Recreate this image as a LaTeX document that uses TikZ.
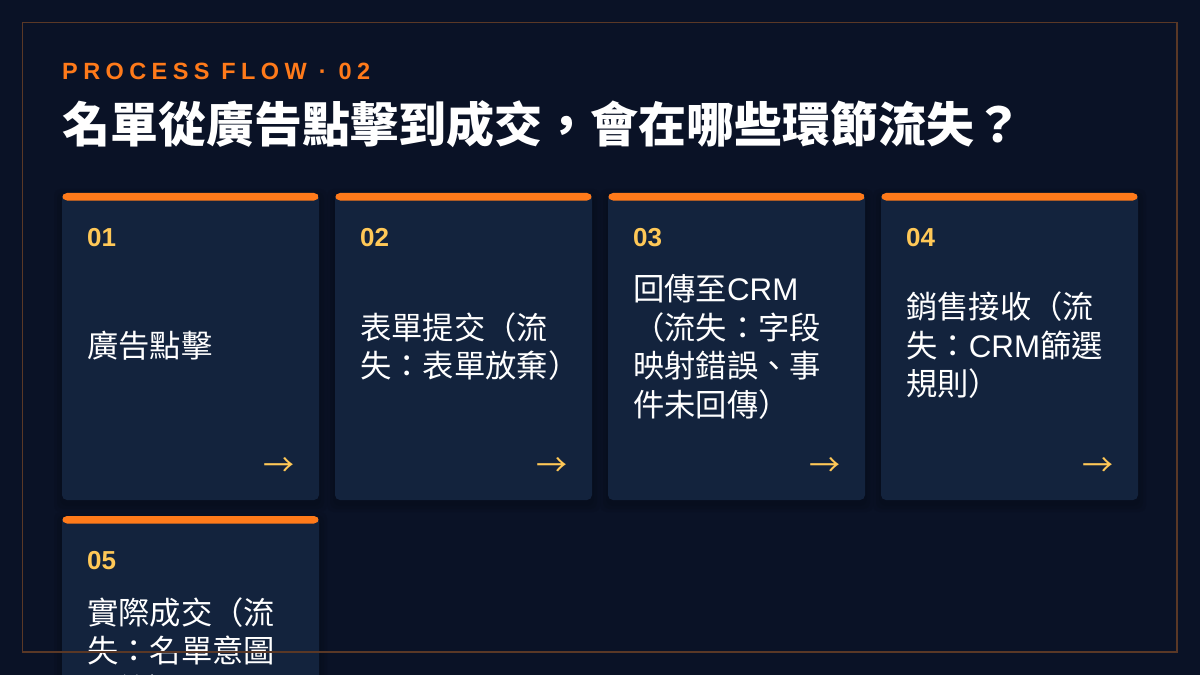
\documentclass[tikz,border=0pt]{standalone}
\usepackage{fontspec}
\setmainfont{Liberation Sans}
\newfontfamily\cjk{Noto Sans CJK TC}
\newfontfamily\kickerfont{Liberation Sans}[LetterSpace=23]
\newcommand\lat[1]{{\rmfamily #1}}
\definecolor{bgc}{HTML}{0A1226}
\definecolor{cardc}{HTML}{13233D}
\definecolor{orangeA}{HTML}{FF7A1A}
\definecolor{yellowA}{HTML}{FFC857}
\definecolor{framec}{HTML}{5A3826}
\tikzset{
  cardbox/.style={minimum width=257bp, minimum height=307bp, inner sep=0pt, outer sep=0pt,
    anchor=north west, fill=cardc, rounded corners=5bp,
    path picture={\fill[orangeA] ([yshift=2bp]path picture bounding box.north west) rectangle ([yshift=-7.5bp]path picture bounding box.north east);}},
  shadowbox/.style={fill=black, fill opacity=0.06},
  num/.style={anchor=west, inner sep=0pt, text=yellowA, font=\bfseries\fontsize{26bp}{26bp}\selectfont},
  body/.style={anchor=west, inner sep=0pt, text=white, align=left, font=\cjk\fontsize{31.3bp}{38.5bp}\selectfont},
  arr/.style={anchor=east, inner sep=0pt, text=yellowA, font=\cjk\fontsize{31bp}{31bp}\selectfont},
  kicker/.style={anchor=west, inner sep=0pt, text=orangeA, font=\kickerfont\bfseries\fontsize{23.5bp}{23.5bp}\selectfont},
  title/.style={anchor=west, inner sep=0pt, text=white, font=\cjk\bfseries\fontsize{48bp}{48bp}\selectfont},
}
\begin{document}
\begin{tikzpicture}[x=1bp,y=-1bp]
\fill[bgc] (0,0) rectangle (1200,675);
\useasboundingbox (0,0) rectangle (1200,675);

\node[kicker] (kick) at (62,71.5) {PROCESS FLOW · 02};
\node[title] (ttl) at (62,124) {名單從廣告點擊到成交，會在哪些環節流失？};

% shadows
\foreach \cx/\cy in {62/193,335/193,608/193,881/193,62/516}{
  \foreach \s in {2,5,8}{
    \fill[shadowbox, rounded corners=6bp] (\cx-\s,\cy-\s+4) rectangle (\cx+257+\s,\cy+307+\s+4);
  }
}

% cards
\node[cardbox] (c1) at (62,193) {};
\node[cardbox] (c2) at (335,193) {};
\node[cardbox] (c3) at (608,193) {};
\node[cardbox] (c4) at (881,193) {};
\node[cardbox] (c5) at (62,516) {};

% numbers
\node[num] (n1) at (87,238) {01};
\node[num] (n2) at (360,238) {02};
\node[num] (n3) at (633,238) {03};
\node[num] (n4) at (906,238) {04};
\node[num] (n5) at (87,561) {05};

% body texts
\node[body] (t1) at (87,346) {廣告點擊};
\node[body] (t2) at (360,346.5) {表單提交（流\\失：表單放棄）};
\node[body] (t3) at (633,347) {回傳至\lat{CRM}\\（流失：字段\\映射錯誤、事\\件未回傳）};
\node[body] (t4) at (906,345.5) {銷售接收（流\\失：\lat{CRM}篩選\\規則）};
\node[body] (t5) at (87,651) {實際成交（流\\失：名單意圖\\不符）};

% arrows
\node[arr] (a1) at (295,467) {→};
\node[arr] (a2) at (568,467) {→};
\node[arr] (a3) at (841,467) {→};
\node[arr] (a4) at (1114,467) {→};

% frame
\draw[framec, line width=1.6bp] (22.5,22.5) rectangle (1177,652);
\end{tikzpicture}
\end{document}
